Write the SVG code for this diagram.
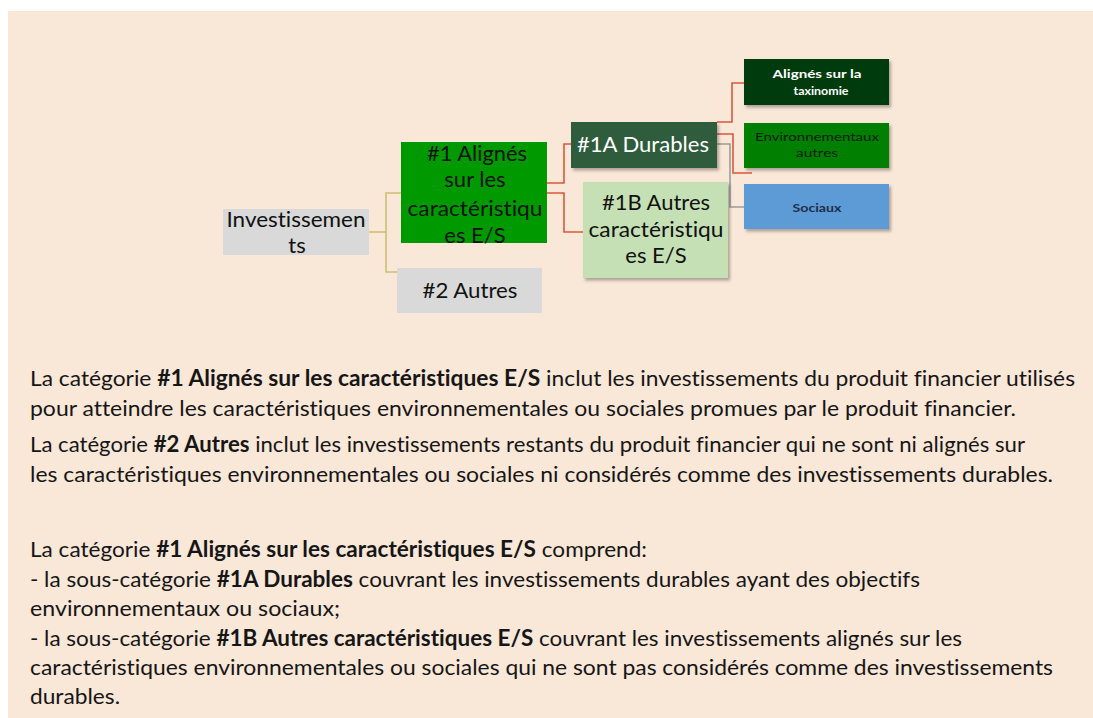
<svg xmlns="http://www.w3.org/2000/svg" width="1093" height="718" viewBox="0 0 1093 718">
<defs>
<style>
text{font-variant-ligatures:none;}
.node{font-family:Lato,"Liberation Sans",sans-serif;text-anchor:middle;}
.big{font-size:22px;fill:#111;}
.small{font-size:12px;}
.p{font-family:Lato,"Liberation Sans",sans-serif;font-size:22px;fill:#161616;}
.b{font-weight:bold;}
.conn{fill:none;stroke-width:1.6;}
.olive{stroke:#CDBF72;}
.red{stroke:#D85A3C;}
.gray{stroke:#9C9C9C;}
</style>
<filter id="sh" x="-10%" y="-10%" width="130%" height="140%">
<feDropShadow dx="2" dy="2.5" stdDeviation="1.5" flood-color="#000" flood-opacity="0.3"/>
</filter>
</defs>
<rect x="0" y="0" width="1093" height="718" fill="#fff"/>
<rect x="8" y="11" width="1085" height="707" fill="#F9E7D8"/>

<g id="connectors">
<path class="conn olive" d="M369,232 H386 M401,193 H386 V272 H397"/>
<path class="conn red" d="M547,183 H564 V144 H571"/>
<path class="conn red" d="M547,193 H564 V232 H583"/>
<path class="conn red" d="M717,122 H732 V83 H744"/>
<path class="conn red" d="M717,134 H733 V173 H752"/>
<path class="conn gray" d="M717,144 H730 V207 H744"/>
</g>

<g id="n-investissements">
<rect x="223" y="209" width="146" height="46" fill="#D9D9D9"/>
<text class="node big" x="296" y="227" textLength="139" lengthAdjust="spacingAndGlyphs">Investissemen</text>
<text class="node big" x="297" y="253">ts</text>
</g>

<g id="n-1-alignes">
<rect x="401" y="142" width="146" height="101" fill="#009A00"/>
<text class="node big" x="477" y="161" textLength="100" lengthAdjust="spacingAndGlyphs">#1 Alignés</text>
<text class="node big" x="475" y="187">sur les</text>
<text class="node big" x="475" y="216" textLength="135" lengthAdjust="spacingAndGlyphs">caractéristiqu</text>
<text class="node big" x="475" y="243">es E/S</text>
</g>

<g id="n-2-autres">
<rect x="397" y="268" width="145" height="45" fill="#D9D9D9"/>
<text class="node big" x="470" y="298" textLength="95" lengthAdjust="spacingAndGlyphs">#2 Autres</text>
</g>

<g id="n-1a-durables">
<rect x="571" y="122" width="146" height="46" fill="#2E5C3E" filter="url(#sh)"/>
<text class="node" x="643" y="152" font-size="22" fill="#fff" textLength="132" lengthAdjust="spacingAndGlyphs">#1A Durables</text>
</g>

<g id="n-1b-autres">
<rect x="583" y="182" width="145" height="96" fill="#C5E0B4" filter="url(#sh)"/>
<text class="node big" x="656" y="210" textLength="108" lengthAdjust="spacingAndGlyphs">#1B Autres</text>
<text class="node big" x="656" y="237" textLength="135" lengthAdjust="spacingAndGlyphs">caractéristiqu</text>
<text class="node big" x="656" y="263">es E/S</text>
</g>

<g id="n-taxinomie">
<rect x="744" y="59" width="145" height="46" fill="#033A0B" filter="url(#sh)"/>
<text class="node small b" x="817" y="78" fill="#fff" textLength="89" lengthAdjust="spacingAndGlyphs">Alignés sur la</text>
<text class="node small b" x="821" y="95" fill="#fff" textLength="55" lengthAdjust="spacingAndGlyphs">taxinomie</text>
</g>

<g id="n-environnementaux">
<rect x="744" y="123" width="145" height="45" fill="#007F00" filter="url(#sh)"/>
<text class="node small" x="817" y="141" fill="#0d1a0d" textLength="124" lengthAdjust="spacingAndGlyphs">Environnementaux</text>
<text class="node small" x="817" y="157" fill="#0d1a0d" textLength="42" lengthAdjust="spacingAndGlyphs">autres</text>
</g>

<g id="n-sociaux">
<rect x="744" y="184" width="145" height="45" fill="#5B9BD5" filter="url(#sh)"/>
<text class="node small b" x="817" y="212" fill="#1F2E4A" textLength="49" lengthAdjust="spacingAndGlyphs">Sociaux</text>
</g>

<g id="texte">
<text class="p" x="30" y="386" textLength="1045" lengthAdjust="spacingAndGlyphs">La catégorie <tspan class="b">#1 Alignés sur les caractéristiques E/S</tspan> inclut les investissements du produit financier utilisés</text>
<text class="p" x="30" y="416" textLength="986" lengthAdjust="spacingAndGlyphs">pour atteindre les caractéristiques environnementales ou sociales promues par le produit financier.</text>
<text class="p" x="30" y="452" textLength="995" lengthAdjust="spacingAndGlyphs">La catégorie <tspan class="b">#2 Autres</tspan> inclut les investissements restants du produit financier qui ne sont ni alignés sur</text>
<text class="p" x="30" y="482" textLength="1023" lengthAdjust="spacingAndGlyphs">les caractéristiques environnementales ou sociales ni considérés comme des investissements durables.</text>
<text class="p" x="30" y="557" textLength="617" lengthAdjust="spacingAndGlyphs">La catégorie <tspan class="b">#1 Alignés sur les caractéristiques E/S</tspan> comprend:</text>
<text class="p" x="30" y="587" textLength="890" lengthAdjust="spacingAndGlyphs">- la sous-catégorie <tspan class="b">#1A Durables</tspan> couvrant les investissements durables ayant des objectifs</text>
<text class="p" x="30" y="616" textLength="310" lengthAdjust="spacingAndGlyphs">environnementaux ou sociaux;</text>
<text class="p" x="30" y="646" textLength="932" lengthAdjust="spacingAndGlyphs">- la sous-catégorie <tspan class="b">#1B Autres caractéristiques E/S</tspan> couvrant les investissements alignés sur les</text>
<text class="p" x="30" y="675" textLength="1023" lengthAdjust="spacingAndGlyphs">caractéristiques environnementales ou sociales qui ne sont pas considérés comme des investissements</text>
<text class="p" x="30" y="704" textLength="90" lengthAdjust="spacingAndGlyphs">durables.</text>
</g>
</svg>
